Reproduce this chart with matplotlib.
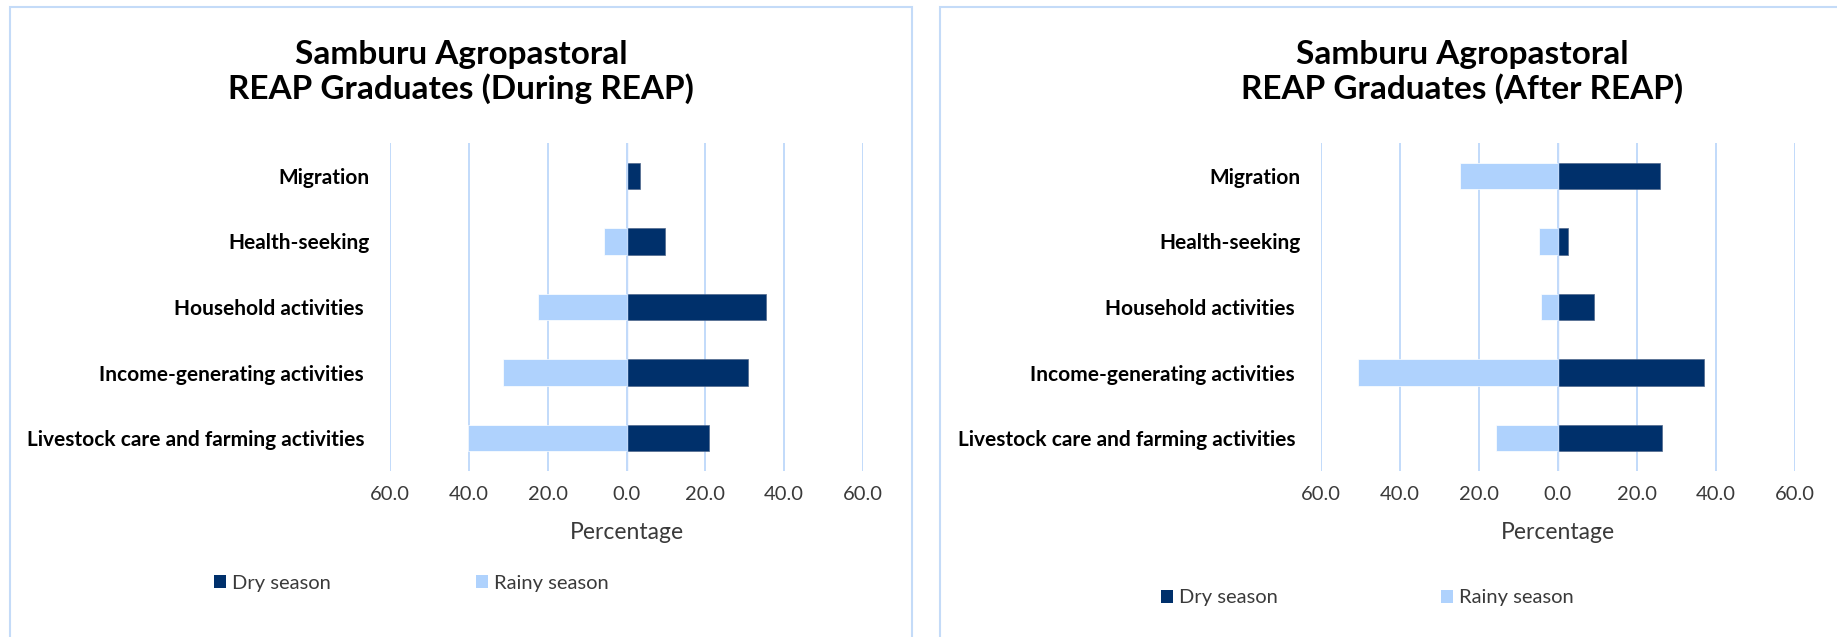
import matplotlib
matplotlib.use("Agg")
import matplotlib.pyplot as plt
from matplotlib.ticker import FuncFormatter
from matplotlib.patches import Rectangle, Patch

plt.rcParams["font.family"] = ["Lato", "DejaVu Sans"]

# Activity categories, listed bottom to top
categories = [
    "Livestock care and farming activities ",
    "Income-generating activities ",
    "Household activities ",
    "Health-seeking",
    "Migration",
]

# Percentages of graduates per activity
dry_during = [20.9, 30.7, 35.3, 9.7, 3.3]
rainy_during = [40.1, 31.3, 22.5, 5.8, 0.0]
dry_after = [26.3, 36.9, 9.0, 2.6, 25.7]
rainy_after = [15.7, 50.7, 4.3, 4.7, 24.8]

titles = [
    "Samburu Agropastoral\nREAP Graduates (During REAP)",
    "Samburu Agropastoral\nREAP Graduates (After REAP)",
]
series_labels = ["Dry season", "Rainy season"]
x_ticks = [-60, -40, -20, 0, 20, 40, 60]

DRY = "#00306B"
RAINY = "#AFD2FD"
GRID = "#C2DAFA"
BORDER = "#C4DBF8"
TEXT = "#3A3A3A"

W, H = 1837, 637
fig = plt.figure(figsize=(W / 100, H / 100), dpi=100)

# Panel frames (the right one runs off the canvas edge)
fig.patches.append(Rectangle((10 / W, -0.1), 902 / W, 1.1 - 7 / H, transform=fig.transFigure,
                             fill=False, edgecolor=BORDER, linewidth=1.5))
fig.patches.append(Rectangle((940 / W, -0.1), 0.8, 1.1 - 7 / H, transform=fig.transFigure,
                             fill=False, edgecolor=BORDER, linewidth=1.5))

ax_left = fig.add_axes([390 / W, 1 - 471 / H, 473 / W, 328 / H])
ax_right = fig.add_axes([1321 / W, 1 - 471 / H, 474 / W, 328 / H])


def draw_panel(ax, dry, rainy):
    ypos = list(range(len(categories)))
    ax.barh(ypos, [-v for v in rainy], height=0.4, color=RAINY,
            edgecolor="white", linewidth=0.5, zorder=3)
    ax.barh(ypos, dry, height=0.4, color=DRY,
            edgecolor="#50688C", linewidth=0.5, zorder=3)
    ax.axvline(0, color=GRID, linewidth=1.0, zorder=4)
    ax.set_xlim(-60, 60)
    ax.set_ylim(-0.5, len(categories) - 0.5)
    ax.set_xticks(x_ticks)
    ax.xaxis.set_major_formatter(FuncFormatter(lambda v, p: f"{abs(v):.1f}"))
    ax.set_yticks(ypos)
    ax.set_yticklabels(categories, fontweight="bold", fontsize=15, color="black")
    ax.grid(axis="x", color=GRID, linewidth=1.4)
    ax.set_axisbelow(True)
    for s in ax.spines.values():
        s.set_visible(False)
    ax.tick_params(axis="both", length=0)
    ax.tick_params(axis="y", pad=15)
    ax.tick_params(axis="x", pad=10.5, labelsize=14.5, labelcolor=TEXT)
    ax.set_xlabel("Percentage", fontsize=16.5, color=TEXT, labelpad=14)


draw_panel(ax_left, dry_during, rainy_during)
draw_panel(ax_right, dry_after, rainy_after)

for xc, title in zip([461, 1462], titles):
    fig.text(xc / W, 1 - 72 / H, title, ha="center", va="center",
             fontsize=24, fontweight="bold", color="black", linespacing=1.2)

handles = [Patch(facecolor=DRY, label=series_labels[0]),
           Patch(facecolor=RAINY, label=series_labels[1])]
for x0, yc, colsp in [(214, 583, 7.2), (1161, 598, 8.1)]:
    fig.legend(handles=handles, loc="center left", bbox_to_anchor=(x0 / W, 1 - yc / H),
               ncol=2, frameon=False, fontsize=14.5, handlelength=0.6, handleheight=0.6,
               handletextpad=0.3, columnspacing=colsp, borderpad=0, borderaxespad=0,
               labelcolor=TEXT)

fig.savefig("out.png", dpi=100)
